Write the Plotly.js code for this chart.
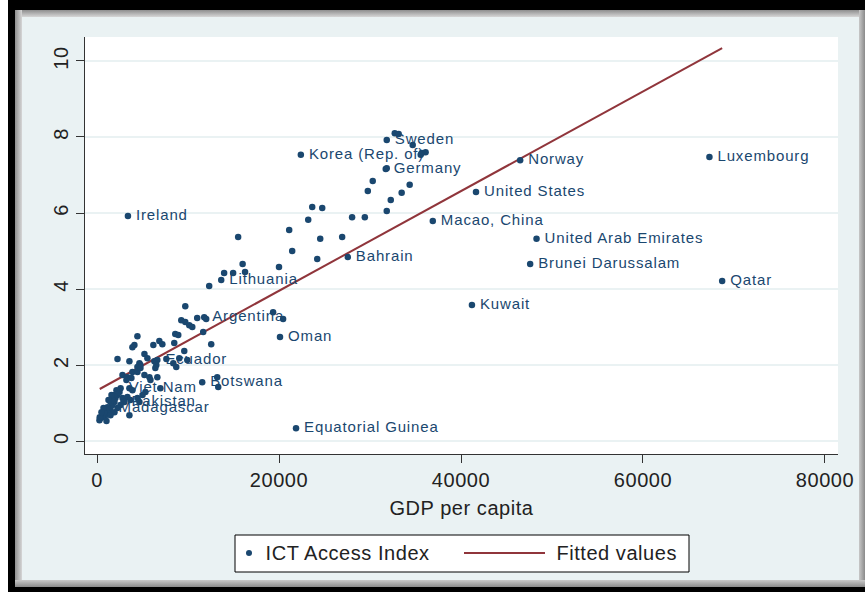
<!DOCTYPE html>
<html>
<head>
<meta charset="utf-8">
<script src="https://cdn.plot.ly/plotly-3.0.1.min.js"></script>
<style>
  html, body { margin: 0; padding: 0; background: #ffffff; }
  #wrap { position: relative; width: 865px; height: 592px; overflow: hidden; }
  #chart { position: absolute; left: 0; top: 0; width: 865px; height: 592px; }
  .bd { position: absolute; pointer-events: none; }
  .js-plotly-plot .textpoint text { letter-spacing: 0.85px; transform: translateX(3px); }
  .js-plotly-plot .xtick text, .js-plotly-plot .ytick text,
  .js-plotly-plot .annotation-text, .js-plotly-plot .g-xtitle text { letter-spacing: 0.55px; }
</style>
</head>
<body>
<div id="wrap">
  <div id="chart"></div>
  <div class="bd" style="left:0;top:0;width:8px;height:592px;background:#ffffff;"></div>
  <div class="bd" style="left:8px;top:0;width:857px;height:10px;background:#000;"></div>
  <div class="bd" style="left:8px;top:0;width:7px;height:592px;background:#000;"></div>
  <div class="bd" style="left:15px;top:10px;width:850px;height:7px;background:linear-gradient(#8e8e8e,#d6d6d6);"></div>
  <div class="bd" style="left:15px;top:10px;width:7px;height:577px;background:linear-gradient(90deg,#8e8e8e,#d6d6d6);"></div>
  <div class="bd" style="left:859px;top:10px;width:6px;height:577px;background:linear-gradient(90deg,#c8c8c8,#8a8a8a);"></div>
  <div class="bd" style="left:15px;top:580px;width:850px;height:7px;background:linear-gradient(#c8c8c8,#8a8a8a);"></div>
  <div class="bd" style="left:8px;top:587px;width:857px;height:5px;background:#000;"></div>
</div>
<script>
// GDP per capita (x) and ICT Access Index (y); labels for named countries
const gdp = [
  3400, 22400, 31840, 31730, 46500, 67300, 41650, 36900, 48300, 47600,
  68700, 41200, 27560, 13650, 11780, 20110, 6630, 2590, 2900, 1480,
  11560, 21870,
  32720, 33150, 34690, 36110, 35680, 35570, 31840, 30300, 29760, 34360,
  33480, 32280, 23650, 24750, 23210, 28030, 29430, 31840, 21120, 24530,
  26940, 21450, 24200, 15510, 16000, 16270, 13970, 14960, 20000, 12330,
  9700, 19350, 20450, 9260, 9700, 10140, 10470, 11010, 12000, 11670,
  12550, 4440, 4110, 3890, 6190, 6850, 7180, 8600, 8930, 8490,
  2250, 3560, 4660, 5210, 5540, 6300, 6520, 6410, 4770, 4440,
  7620, 8380, 9040, 9590, 9920, 8710, 2800, 3340, 3780, 3230,
  3890, 4440, 4770, 5210, 5760, 5870, 6630, 6960, 5320, 3560,
  3890, 3340, 3670, 4440, 5000, 4660, 13210, 13320, 3560,
  2250, 2030, 1920, 1700, 1370, 1150, 930, 600, 380, 270,
  820, 1150, 1480, 1920, 2470, 2800, 3010, 2580, 2250, 1920,
  1480, 1040, 300, 1700, 2140, 1590, 1260, 710, 490
];
const ict = [
  5.92, 7.53, 7.92, 7.16, 7.39, 7.47, 6.55, 5.79, 5.32, 4.66,
  4.21, 3.58, 4.84, 4.24, 3.26, 2.74, 2.13, 1.39, 1.03, 0.87,
  1.55, 0.34,
  8.10, 8.08, 7.79, 7.60, 7.58, 7.53, 7.18, 6.84, 6.58, 6.74,
  6.53, 6.34, 6.16, 6.13, 5.82, 5.89, 5.89, 6.05, 5.55, 5.32,
  5.37, 5.00, 4.79, 5.37, 4.66, 4.45, 4.42, 4.42, 4.58, 4.08,
  3.55, 3.39, 3.21, 3.18, 3.13, 3.05, 3.00, 3.24, 3.21, 2.87,
  2.55, 2.76, 2.53, 2.47, 2.53, 2.63, 2.55, 2.82, 2.79, 2.58,
  2.16, 2.10, 2.05, 2.29, 2.18, 2.10, 2.00, 1.92, 2.00, 1.95,
  2.16, 2.05, 2.18, 2.37, 2.13, 1.95, 1.74, 1.68, 1.66, 1.61,
  1.82, 1.82, 1.92, 1.74, 1.68, 1.61, 1.68, 1.39, 1.29, 1.39,
  1.34, 1.16, 1.08, 1.13, 1.21, 1.03, 1.68, 1.42, 0.68,
  1.21, 1.13, 1.03, 0.95, 0.76, 0.74, 0.68, 0.63, 0.61, 0.55,
  0.76, 0.89, 1.03, 1.21, 1.29, 1.13, 1.03, 0.95, 0.87, 0.76,
  0.68, 0.53, 0.63, 1.08, 1.34, 1.21, 1.08, 0.87, 0.76
];
const countryLabels = [
  "Ireland", "Korea (Rep. of)", "Sweden", "Germany", "Norway", "Luxembourg",
  "United States", "Macao, China", "United Arab Emirates", "Brunei Darussalam",
  "Qatar", "Kuwait", "Bahrain", "Lithuania", "Argentina", "Oman", "Ecuador",
  "Viet Nam", "Pakistan", "Madagascar", "Botswana", "Equatorial Guinea"
];
// fitted regression line
const fitX = [300, 68700];
const fitY = [1.37, 10.34];
const xTickVals = [0, 20000, 40000, 60000, 80000];
const xTickText = ["0", "20000", "40000", "60000", "80000"];
const yTickVals = [0, 2, 4, 6, 8, 10];
const yTickText = ["0", "2", "4", "6", "8", "10"];

const labels = gdp.map((v, i) => i < countryLabels.length ? countryLabels[i] : "");

const navy = "#1a476f";
const maroon = "#90353b";
const font = "Liberation Sans, Arial, sans-serif";

const traces = [
  {
    type: "scatter", mode: "lines", x: fitX, y: fitY,
    name: "Fitted values", line: { color: maroon, width: 2 },
    hoverinfo: "skip", showlegend: false
  },
  {
    type: "scatter", mode: "markers+text", x: gdp, y: ict, text: labels,
    name: "ICT Access Index", textposition: "middle right",
    textfont: { family: font, size: 15, color: navy },
    marker: { color: navy, size: 6.5, symbol: "circle" },
    cliponaxis: false, showlegend: false
  }
];

// paper coordinates from pixel positions of the plot area (85..838 x 37..454)
const px = p => (p - 85) / 753;
const py = p => (454 - p) / 417;

const layout = {
  width: 865, height: 592,
  margin: { l: 85, r: 27, t: 37, b: 138 },
  paper_bgcolor: "#eaf2f3",
  plot_bgcolor: "#ffffff",
  showlegend: false,
  font: { family: font, size: 20, color: "#222222" },
  xaxis: {
    range: [-1320, 81430], tickvals: xTickVals, ticktext: xTickText,
    showgrid: false, zeroline: false, showline: true, linecolor: "#333333", linewidth: 1,
    ticks: "outside", ticklen: 8, tickcolor: "#333333",
    tickfont: { family: font, size: 20, color: "#222222" },
    title: { text: "GDP per capita", font: { family: font, size: 20, color: "#222222" }, standoff: 10 }
  },
  yaxis: {
    range: [-0.34, 10.63], tickvals: yTickVals, ticktext: yTickText, tickangle: -90,
    showgrid: true, gridcolor: "#eaf2f3", gridwidth: 1.5,
    zeroline: false, showline: true, linecolor: "#333333", linewidth: 1,
    ticks: "outside", ticklen: 8, tickcolor: "#333333",
    tickfont: { family: font, size: 20, color: "#222222" }
  },
  shapes: [
    { type: "rect", xref: "paper", yref: "paper", x0: px(235), x1: px(689), y0: py(535), y1: py(572),
      fillcolor: "#ffffff", line: { color: "#000000", width: 1 }, layer: "above" },
    { type: "circle", xref: "paper", yref: "paper", xsizemode: "pixel", ysizemode: "pixel",
      xanchor: px(249), yanchor: py(553), x0: -3, x1: 3, y0: -3, y1: 3,
      fillcolor: navy, line: { color: navy, width: 0 } },
    { type: "line", xref: "paper", yref: "paper", x0: px(464), x1: px(545), y0: py(553), y1: py(553),
      line: { color: maroon, width: 2 } }
  ],
  annotations: [
    { xref: "paper", yref: "paper", x: px(268), y: py(553), xanchor: "left", yanchor: "middle",
      text: "ICT Access Index", showarrow: false, font: { family: font, size: 20, color: "#222222" } },
    { xref: "paper", yref: "paper", x: px(558), y: py(553), xanchor: "left", yanchor: "middle",
      text: "Fitted values", showarrow: false, font: { family: font, size: 20, color: "#222222" } }
  ]
};

Plotly.newPlot("chart", traces, layout, { displayModeBar: false, staticPlot: true });
</script>
</body>
</html>
